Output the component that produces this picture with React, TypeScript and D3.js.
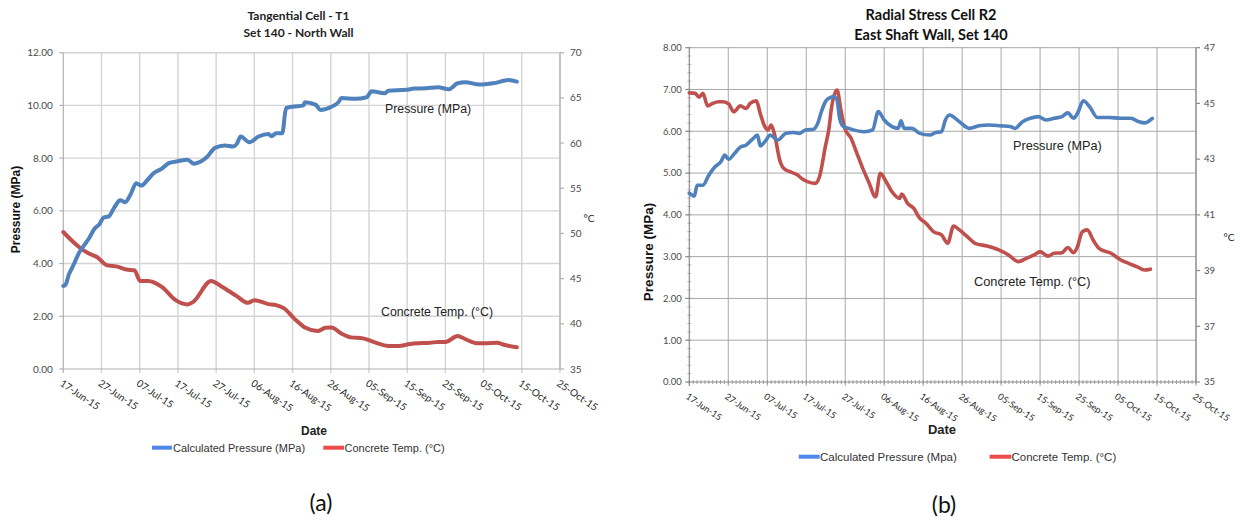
import React from "react";
import * as d3 from "d3";

// ---------- DATA (day offset from 17-Jun-2015, value) ----------
const tickLabelsA = ["17-Jun-15","27-Jun-15","07-Jul-15","17-Jul-15","27-Jul-15","06-Aug-15","16-Aug-15","26-Aug-15","05-Sep-15","15-Sep-15","25-Sep-15","05-Oct-15","15-Oct-15","25-Oct-15"];

const aPressDays = [0,0.6,1.5,2,3,4,5.5,6.7,8.2,9.5,10.5,11.9,13.4,14.9,16.2,17.5,19.1,20.4,21.9,23.5,25.8,27.6,29.9,32.5,34.2,36.1,37.6,39.7,42.3,44.4,45.4,46.4,48.7,51.1,53.7,54.5,55.7,57.3,58.3,59.8,62.9,63.2,66,67.3,70.2,72,72.8,76.4,79.4,80.7,84.1,85.1,89.8,91.8,94.9,98,100.9,103.2,105.2,108.9,112.5,116.6,118.7];
const aPress = [3.15,3.2,3.6,3.75,4.05,4.38,4.7,4.95,5.33,5.5,5.74,5.79,6.14,6.4,6.33,6.59,7.05,6.96,7.15,7.41,7.6,7.81,7.88,7.94,7.79,7.88,8.04,8.39,8.48,8.44,8.54,8.82,8.6,8.82,8.92,8.83,8.94,8.94,9.9,9.95,10.0,10.12,10.03,9.83,9.95,10.12,10.28,10.25,10.31,10.54,10.46,10.56,10.59,10.64,10.65,10.69,10.61,10.84,10.88,10.79,10.84,10.96,10.9];

const aTempDays = [0,2,4.1,6.7,8.8,11.3,14.4,16.5,18.6,20.1,22.2,25.8,29.4,32.5,34,38.7,41.3,45.4,48.3,50,53.7,55.7,57.8,60.4,63.4,66.5,68.6,70.2,72.7,75.3,78.4,81.5,85.1,87.7,90.8,92.9,96,98,100,103.2,105.2,108.4,110.4,113.5,115.6,118.7];
const aTemp = [50.16,49.3,48.5,47.77,47.4,46.5,46.3,46.0,45.93,44.75,44.75,44.09,42.62,42.14,42.43,44.75,44.16,43.06,42.32,42.62,42.18,42.07,41.7,40.6,39.56,39.2,39.56,39.6,38.94,38.5,38.39,37.95,37.54,37.54,37.76,37.84,37.9,38.0,38.0,38.64,38.31,37.84,37.84,37.9,37.65,37.4];

const bPressDays = [0,1.3,2,3.5,5,6.6,8.1,9.1,10.1,11.6,13.1,14.6,16.2,17.5,18.2,19.7,20.7,22.7,24.8,26.8,28.3,29.8,31.9,33,34,35,36,37,37.8,38.6,39.5,40.9,44.9,47,48.5,50,52,53.6,54.3,55.1,57.1,59.1,61.7,63.2,64.7,65.7,66.7,69.3,71.8,74.3,76.9,79.9,82.5,83.5,85.5,87.5,89.5,91.5,93.6,95.6,97.1,98.6,99.6,101.1,102.7,104.7,107.7,110.7,113.3,115.3,116.8,118.8];
const bPress = [4.52,4.45,4.71,4.71,4.95,5.15,5.27,5.43,5.33,5.47,5.62,5.67,5.81,5.91,5.65,5.79,5.91,5.79,5.95,5.97,5.95,6.03,6.05,6.2,6.5,6.72,6.8,6.83,6.78,6.3,6.12,6.07,5.99,6.03,6.47,6.27,6.11,6.07,6.25,6.07,6.07,5.95,5.91,5.97,5.99,6.27,6.39,6.23,6.07,6.13,6.15,6.13,6.11,6.07,6.23,6.31,6.35,6.27,6.31,6.35,6.44,6.31,6.43,6.73,6.59,6.33,6.33,6.31,6.31,6.23,6.2,6.31];

const bTempDays = [0,1.5,2.5,3.5,4.7,6,7.5,8.7,10.1,11.4,13.1,14.6,15.6,17.2,18.2,19.2,20.2,21,21.9,23.2,24.2,25.8,27.8,28.8,30.3,32.3,33.4,34.9,35.9,36.4,37.9,38.9,39.9,41.5,43,44.5,46,47.8,49,50.5,52,54,54.5,56,57.6,59.1,60.7,62.7,64.7,66.3,67.8,69.3,71.3,73.3,76.4,79.4,81.9,83.5,84.4,86.5,88.5,90,92,93.6,95.6,97.1,98.6,99.6,100.8,102.1,103.6,105.1,108.2,110.7,112.7,114.8,116.8,118.3];
const bTemp = [45.38,45.36,45.22,45.36,44.91,45.0,45.06,45.06,44.98,44.7,44.91,44.82,45.0,45.09,44.64,44.22,44.05,44.22,43.87,42.97,42.67,42.55,42.43,42.31,42.19,42.13,42.37,43.45,44.16,44.76,45.48,44.76,44.1,43.75,43.21,42.67,42.19,41.65,42.49,42.19,41.83,41.59,41.75,41.41,41.23,40.88,40.7,40.39,40.28,39.98,40.6,40.46,40.22,39.98,39.88,39.74,39.56,39.38,39.32,39.44,39.56,39.68,39.52,39.62,39.64,39.83,39.64,39.86,40.39,40.46,40.1,39.8,39.62,39.38,39.26,39.14,39.02,39.05];

const aLeftTicks = [0,2,4,6,8,10,12];
const aRightTicks = [35,40,45,50,55,60,65,70];
const bLeftTicks = [0,1,2,3,4,5,6,7,8];
const bRightTicks = [35,37,39,41,43,45,47];

const startDate = new Date(2015, 5, 17);
const endDate = new Date(2015, 9, 25);
const toDate = (d: number) => new Date(startDate.getTime() + d * 86400000);

const BLUE = "#4F81BD";
const RED = "#C0504D";
const LEG_BLUE = "#4F86EC";
const LEG_RED = "#EE4B4B";

type Cfg = {
  x0: number; x1: number; yTop: number; yBot: number;
  leftDomain: [number, number]; rightDomain: [number, number];
  leftTicks: number[]; rightTicks: number[];
  pDays: number[]; p: number[]; tDays: number[]; t: number[];
  grid: string; gridW: number; axis: string; lineW: number;
  tickFont: number; xTickFont: number; leftGap: number; rightGap: number;
  minor: boolean;
};

function Chart({ c }: { c: Cfg }) {
  const x = d3.scaleTime().domain([startDate, endDate]).range([c.x0, c.x1]);
  const yl = d3.scaleLinear().domain(c.leftDomain).range([c.yBot, c.yTop]);
  const yr = d3.scaleLinear().domain(c.rightDomain).range([c.yBot, c.yTop]);
  const xt = tickLabelsA.map((_, i) => d3.timeDay.offset(startDate, i * 10));
  const fmt = d3.timeFormat("%d-%b-%y");
  const lineP = d3.line<number>().x((_, i) => x(toDate(c.pDays[i]))).y((v) => yl(v)).curve(d3.curveMonotoneX);
  const lineT = d3.line<number>().x((_, i) => x(toDate(c.tDays[i]))).y((v) => yr(v)).curve(d3.curveMonotoneX);
  const days = d3.range(0, 131);
  const yMinor = d3.range(c.leftDomain[0], c.leftDomain[1] + 1e-9, 0.2);
  return (
    <g>
      {xt.map((d, i) => i > 0 ? (
        <line key={"gx" + i} x1={x(d)} x2={x(d)} y1={c.yTop} y2={c.yBot + 4} stroke={c.grid} strokeWidth={c.gridW} />
      ) : null)}
      {c.leftTicks.map((v, i) => i > 0 ? (
        <line key={"gy" + i} x1={c.x0} x2={c.x1} y1={yl(v)} y2={yl(v)} stroke={c.grid} strokeWidth={c.gridW} />
      ) : null)}
      <line x1={c.x0} x2={c.x0} y1={c.yTop} y2={c.yBot} stroke={c.axis} strokeWidth={1.2} />
      <line x1={c.x1} x2={c.x1} y1={c.yTop} y2={c.yBot} stroke={c.axis} strokeWidth={1.2} />
      <line x1={c.x0} x2={c.x1} y1={c.yBot} y2={c.yBot} stroke={c.axis} strokeWidth={1.2} />
      <line x1={c.x0} x2={c.x0} y1={c.yBot} y2={c.yBot + 4} stroke={c.axis} strokeWidth={1.2} />
      {c.leftTicks.map((v) => (
        <line key={"lt" + v} x1={c.x0 - 4} x2={c.x0} y1={yl(v)} y2={yl(v)} stroke={c.axis} strokeWidth={1.2} />
      ))}
      {c.rightTicks.map((v) => (
        <line key={"rt" + v} x1={c.x1} x2={c.x1 + 4} y1={yr(v)} y2={yr(v)} stroke={c.axis} strokeWidth={1.2} />
      ))}
      {c.minor && days.map((d) => (
        <line key={"mx" + d} x1={x(toDate(d))} x2={x(toDate(d))} y1={c.yBot - 2} y2={c.yBot + 2} stroke={c.axis} strokeWidth={0.8} />
      ))}
      {c.minor && yMinor.map((v, i) => (
        <line key={"my" + i} x1={c.x0 - 2} x2={c.x0 + 2} y1={yl(v)} y2={yl(v)} stroke={c.axis} strokeWidth={0.6} />
      ))}
      {c.leftTicks.map((v) => (
        <text key={"ll" + v} x={c.x0 - c.leftGap} y={yl(v)} dy="0.35em" textAnchor="end" fontFamily="Lato" fontSize={c.tickFont} fill="#4a4a4a">{d3.format(".2f")(v)}</text>
      ))}
      {c.rightTicks.map((v) => (
        <text key={"rl" + v} x={c.x1 + c.rightGap} y={yr(v)} dy="0.35em" textAnchor="start" fontFamily="Lato" fontSize={c.tickFont} fill="#4a4a4a">{v}</text>
      ))}
      {xt.map((d, i) => {
        const px = x(d) - 4;
        const py = c.yBot + 16;
        return (
          <text key={"xl" + i} transform={`translate(${px},${py}) rotate(34)`} fontFamily="Lato" fontSize={c.xTickFont} fill="#1f1f1f">{fmt(d)}</text>
        );
      })}
      <path d={lineT(c.t) || ""} fill="none" stroke={RED} strokeWidth={c.lineW} strokeLinejoin="round" strokeLinecap="round" />
      <path d={lineP(c.p) || ""} fill="none" stroke={BLUE} strokeWidth={c.lineW} strokeLinejoin="round" strokeLinecap="round" />
    </g>
  );
}

export default function App() {
  const cA: Cfg = {
    x0: 63.3, x1: 560, yTop: 52.7, yBot: 369,
    leftDomain: [0, 12], rightDomain: [35, 70], leftTicks: aLeftTicks, rightTicks: aRightTicks,
    pDays: aPressDays, p: aPress, tDays: aTempDays, t: aTemp,
    grid: "#d4d4d4", gridW: 1.4, axis: "#b0b0b0", lineW: 4,
    tickFont: 10, xTickFont: 10, leftGap: 10.5, rightGap: 10, minor: false,
  };
  const cB: Cfg = {
    x0: 689.3, x1: 1196, yTop: 47.7, yBot: 382,
    leftDomain: [0, 8], rightDomain: [35, 47], leftTicks: bLeftTicks, rightTicks: bRightTicks,
    pDays: bPressDays, p: bPress, tDays: bTempDays, t: bTemp,
    grid: "#a8a8a8", gridW: 1, axis: "#8c8c8c", lineW: 3.6,
    tickFont: 9.5, xTickFont: 9, leftGap: 7.6, rightGap: 8, minor: true,
  };
  return (
    <svg width={1240} height={521} style={{ position: "absolute", left: 0, top: 0, background: "#fff" }}>
      <rect width={1240} height={521} fill="#fff" />
      <text x={298.5} y={20} textAnchor="middle" fontFamily="Lato" fontWeight="bold" fontSize={12} fill="#222">Tangential Cell - T1</text>
      <text x={298.5} y={37} textAnchor="middle" fontFamily="Lato" fontWeight="bold" fontSize={12} fill="#222">Set 140 - North Wall</text>
      <Chart c={cA} />
      <text transform="translate(20,209.5) rotate(-90)" textAnchor="middle" fontFamily="Liberation Sans" fontWeight="bold" fontSize={12} fill="#111">Pressure (MPa)</text>
      <text x={589} y={218} dy="0.35em" textAnchor="middle" fontFamily="Lato" fontSize={10} fill="#222">°C</text>
      <text x={314} y={435} textAnchor="middle" fontFamily="Liberation Sans" fontWeight="bold" fontSize={12} fill="#222">Date</text>
      <text x={385} y={112.5} fontFamily="Liberation Sans" fontSize={12.3} fill="#222">Pressure (MPa)</text>
      <text x={381} y={316} fontFamily="Liberation Sans" fontSize={12.3} fill="#222">Concrete Temp. (°C)</text>
      <line x1={152} x2={172} y1={447.7} y2={447.7} stroke={LEG_BLUE} strokeWidth={4} />
      <text x={173} y={447.7} dy="0.35em" fontFamily="Liberation Sans" fontSize={11} fill="#333">Calculated Pressure (MPa)</text>
      <line x1={323.3} x2={344} y1={447.7} y2={447.7} stroke={LEG_RED} strokeWidth={4} />
      <text x={344.5} y={447.7} dy="0.35em" fontFamily="Liberation Sans" fontSize={11} fill="#333">Concrete Temp. (°C)</text>
      <text x={321} y={503} dy="0.35em" textAnchor="middle" fontFamily="Lato" fontSize={23} fill="#111">(a)</text>

      <text x={931} y={20} textAnchor="middle" fontFamily="Lato" fontWeight="bold" fontSize={14.5} fill="#111">Radial Stress Cell R2</text>
      <text x={931} y={40} textAnchor="middle" fontFamily="Lato" fontWeight="bold" fontSize={14.5} fill="#111">East Shaft Wall, Set 140</text>
      <Chart c={cB} />
      <text transform="translate(653,252) rotate(-90)" textAnchor="middle" fontFamily="Liberation Sans" fontWeight="bold" fontSize={13.5} fill="#111">Pressure (MPa)</text>
      <text x={1229} y={237} dy="0.35em" textAnchor="middle" fontFamily="Lato" fontSize={10} fill="#222">°C</text>
      <text x={942} y={434} textAnchor="middle" fontFamily="Liberation Sans" fontWeight="bold" fontSize={13} fill="#222">Date</text>
      <text x={1013} y={150} fontFamily="Liberation Sans" fontSize={12.7} fill="#222">Pressure (MPa)</text>
      <text x={974} y={286} fontFamily="Liberation Sans" fontSize={12.8} fill="#222">Concrete Temp. (°C)</text>
      <line x1={798.7} x2={819.6} y1={456.7} y2={456.7} stroke={LEG_BLUE} strokeWidth={4} />
      <text x={820} y={456.7} dy="0.35em" fontFamily="Liberation Sans" fontSize={11.5} fill="#333">Calculated Pressure (Mpa)</text>
      <line x1={989.6} x2={1011.3} y1={456.7} y2={456.7} stroke={LEG_RED} strokeWidth={4} />
      <text x={1011.5} y={456.7} dy="0.35em" fontFamily="Liberation Sans" fontSize={11.5} fill="#333">Concrete Temp. (°C)</text>
      <text x={944} y={505} dy="0.35em" textAnchor="middle" fontFamily="Lato" fontSize={23} fill="#111">(b)</text>
    </svg>
  );
}
